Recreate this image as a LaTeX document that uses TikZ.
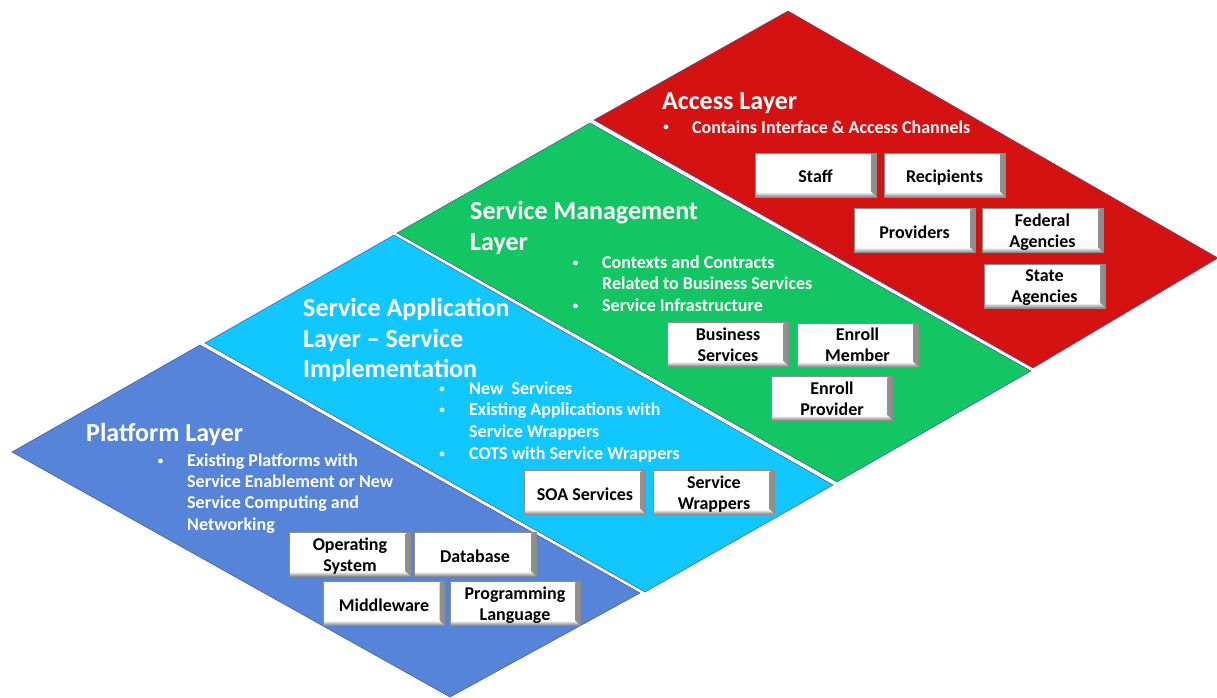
\documentclass[tikz,border=0pt]{standalone}
\usepackage{fontspec}
\setmainfont{Carlito}
\definecolor{accred}{RGB}{212,18,18}
\definecolor{smgreen}{RGB}{20,197,100}
\definecolor{sacyan}{RGB}{18,198,255}
\definecolor{pfblue}{RGB}{86,132,216}
\definecolor{edgeblue}{RGB}{70,85,150}
\newcommand{\twoline}[2]{\raisebox{-16.8pt}[0pt][0pt]{\begin{tabular}[b]{@{}c@{}}#1\\#2\end{tabular}}}
\tikzset{
  band/.style={draw=edgeblue, line width=0.5pt, line join=miter},
  ttl/.style={anchor=base west, inner sep=0pt, text=white, font=\fontsize{26}{31}\selectfont\bfseries},
  itm/.style={anchor=base west, inner sep=0pt, text=white, font=\fontsize{18}{21.5}\selectfont\bfseries},
  dotmark/.style={anchor=base, inner sep=0pt, text=white, font=\fontsize{11}{13}\selectfont\bfseries},
  btn/.style={rectangle, minimum width=121pt, minimum height=44pt, inner sep=0pt,
    fill=white, draw=black!45, line width=0.6pt, text=black,
    font=\fontsize{18}{21}\selectfont\bfseries,
    path picture={
      \shade[left color=white, right color=black!45]
        ([shift={(-5pt,-1pt)}]path picture bounding box.north east) --
        (path picture bounding box.north east) --
        (path picture bounding box.south east) --
        ([shift={(-5pt,5pt)}]path picture bounding box.south east) -- cycle;
      \shade[top color=white, bottom color=black!50]
        ([shift={(1pt,5pt)}]path picture bounding box.south west) --
        ([shift={(-5pt,5pt)}]path picture bounding box.south east) --
        (path picture bounding box.south east) --
        (path picture bounding box.south west) -- cycle;
    }},
  btnone/.style={btn, text height=15pt, text depth=0pt}
}
\begin{document}
\begin{tikzpicture}[x=1pt,y=-1pt]
\useasboundingbox (0,0) rectangle (1217,698);
% bands
\filldraw[band, fill=accred]  (594,120) -- (788,11)  -- (1218,258) -- (1033,368) -- cycle;
\filldraw[band, fill=smgreen] (397,233) -- (590,123) -- (1031,371) -- (837,482) -- cycle;
\filldraw[band, fill=sacyan]  (205,343) -- (394,235) -- (833,485) -- (645,592) -- cycle;
\filldraw[band, fill=pfblue]  (12,452)  -- (200,345) -- (640,593) -- (450,697) -- cycle;

% Access layer
\node[ttl] (tAcc) at (662,110) {Access Layer};
\node[dotmark] (dAcc) at (666,131) {\textbullet};
\node[itm] (iAcc) at (692,133) {Contains Interface \& Access Channels};
\node[btnone] (staff) at (815.5,175) {Staff};
\node[btnone] (recip) at (944.5,175) {Recipients};
\node[btnone] (prov) at (914.5,230.5) {Providers};
\node[btn] (fed) at (1042.5,230.5) {\twoline{Federal}{Agencies}};
\node[btn] (state) at (1044.5,286) {\twoline{State}{Agencies}};

% Service management layer
\node[ttl] (tSM1) at (470,219.5) {Service Management};
\node[ttl] (tSM2) at (470,250) {Layer};
\node[dotmark] (dSM1) at (575.5,266) {\textbullet};
\node[itm] (iSM1) at (602,268) {Contexts and Contracts};
\node[itm] (iSM2) at (602,289.5) {Related to Business Services};
\node[dotmark] (dSM3) at (575.5,309) {\textbullet};
\node[itm] (iSM3) at (602,311) {Service Infrastructure};
\node[btn] (bizsvc) at (728,344.5) {\twoline{Business}{Services}};
\node[btn] (enrmem) at (857.5,345) {\twoline{Enroll}{Member}};
\node[btn] (enrprov) at (832,398.5) {\twoline{Enroll}{Provider}};

% Service application layer
\node[ttl] (tSA1) at (303,316.5) {Service Application};
\node[ttl] (tSA2) at (303,347.5) {Layer – Service};
\node[ttl] (tSA3) at (303,377.5) {Implementation};
\node[dotmark] (dSA1) at (442,392) {\textbullet};
\node[itm] (iSA1) at (469,394) {New\ \ Services};
\node[dotmark] (dSA2) at (442,413.5) {\textbullet};
\node[itm] (iSA2) at (469,415.5) {Existing Applications with};
\node[itm] (iSA3) at (469,437.5) {Service Wrappers};
\node[dotmark] (dSA4) at (442,457) {\textbullet};
\node[itm] (iSA4) at (469,459) {COTS with Service Wrappers};
\node[btnone] (soa) at (585,492.5) {SOA Services};
\node[btn] (svcwr) at (714,492.5) {\twoline{Service}{Wrappers}};

% Platform layer
\node[ttl] (tPF) at (86,441.5) {Platform Layer};
\node[dotmark] (dPF1) at (160.5,464) {\textbullet};
\node[itm] (iPF1) at (187,466) {Existing Platforms with};
\node[itm] (iPF2) at (187,487.5) {Service Enablement or New};
\node[itm] (iPF3) at (187,508.5) {Service Computing and};
\node[itm] (iPF4) at (187,530) {Networking};
\node[btn] (os) at (350,554.5) {\twoline{Operating}{System}};
\node[btnone, minimum width=122pt] (db) at (475,554.5) {Database};
\node[btnone] (mw) at (384,603.5) {Middleware};
\node[btn, minimum width=130pt] (pl) at (515,603.5) {\twoline{Programming}{Language}};
\end{tikzpicture}
\end{document}
